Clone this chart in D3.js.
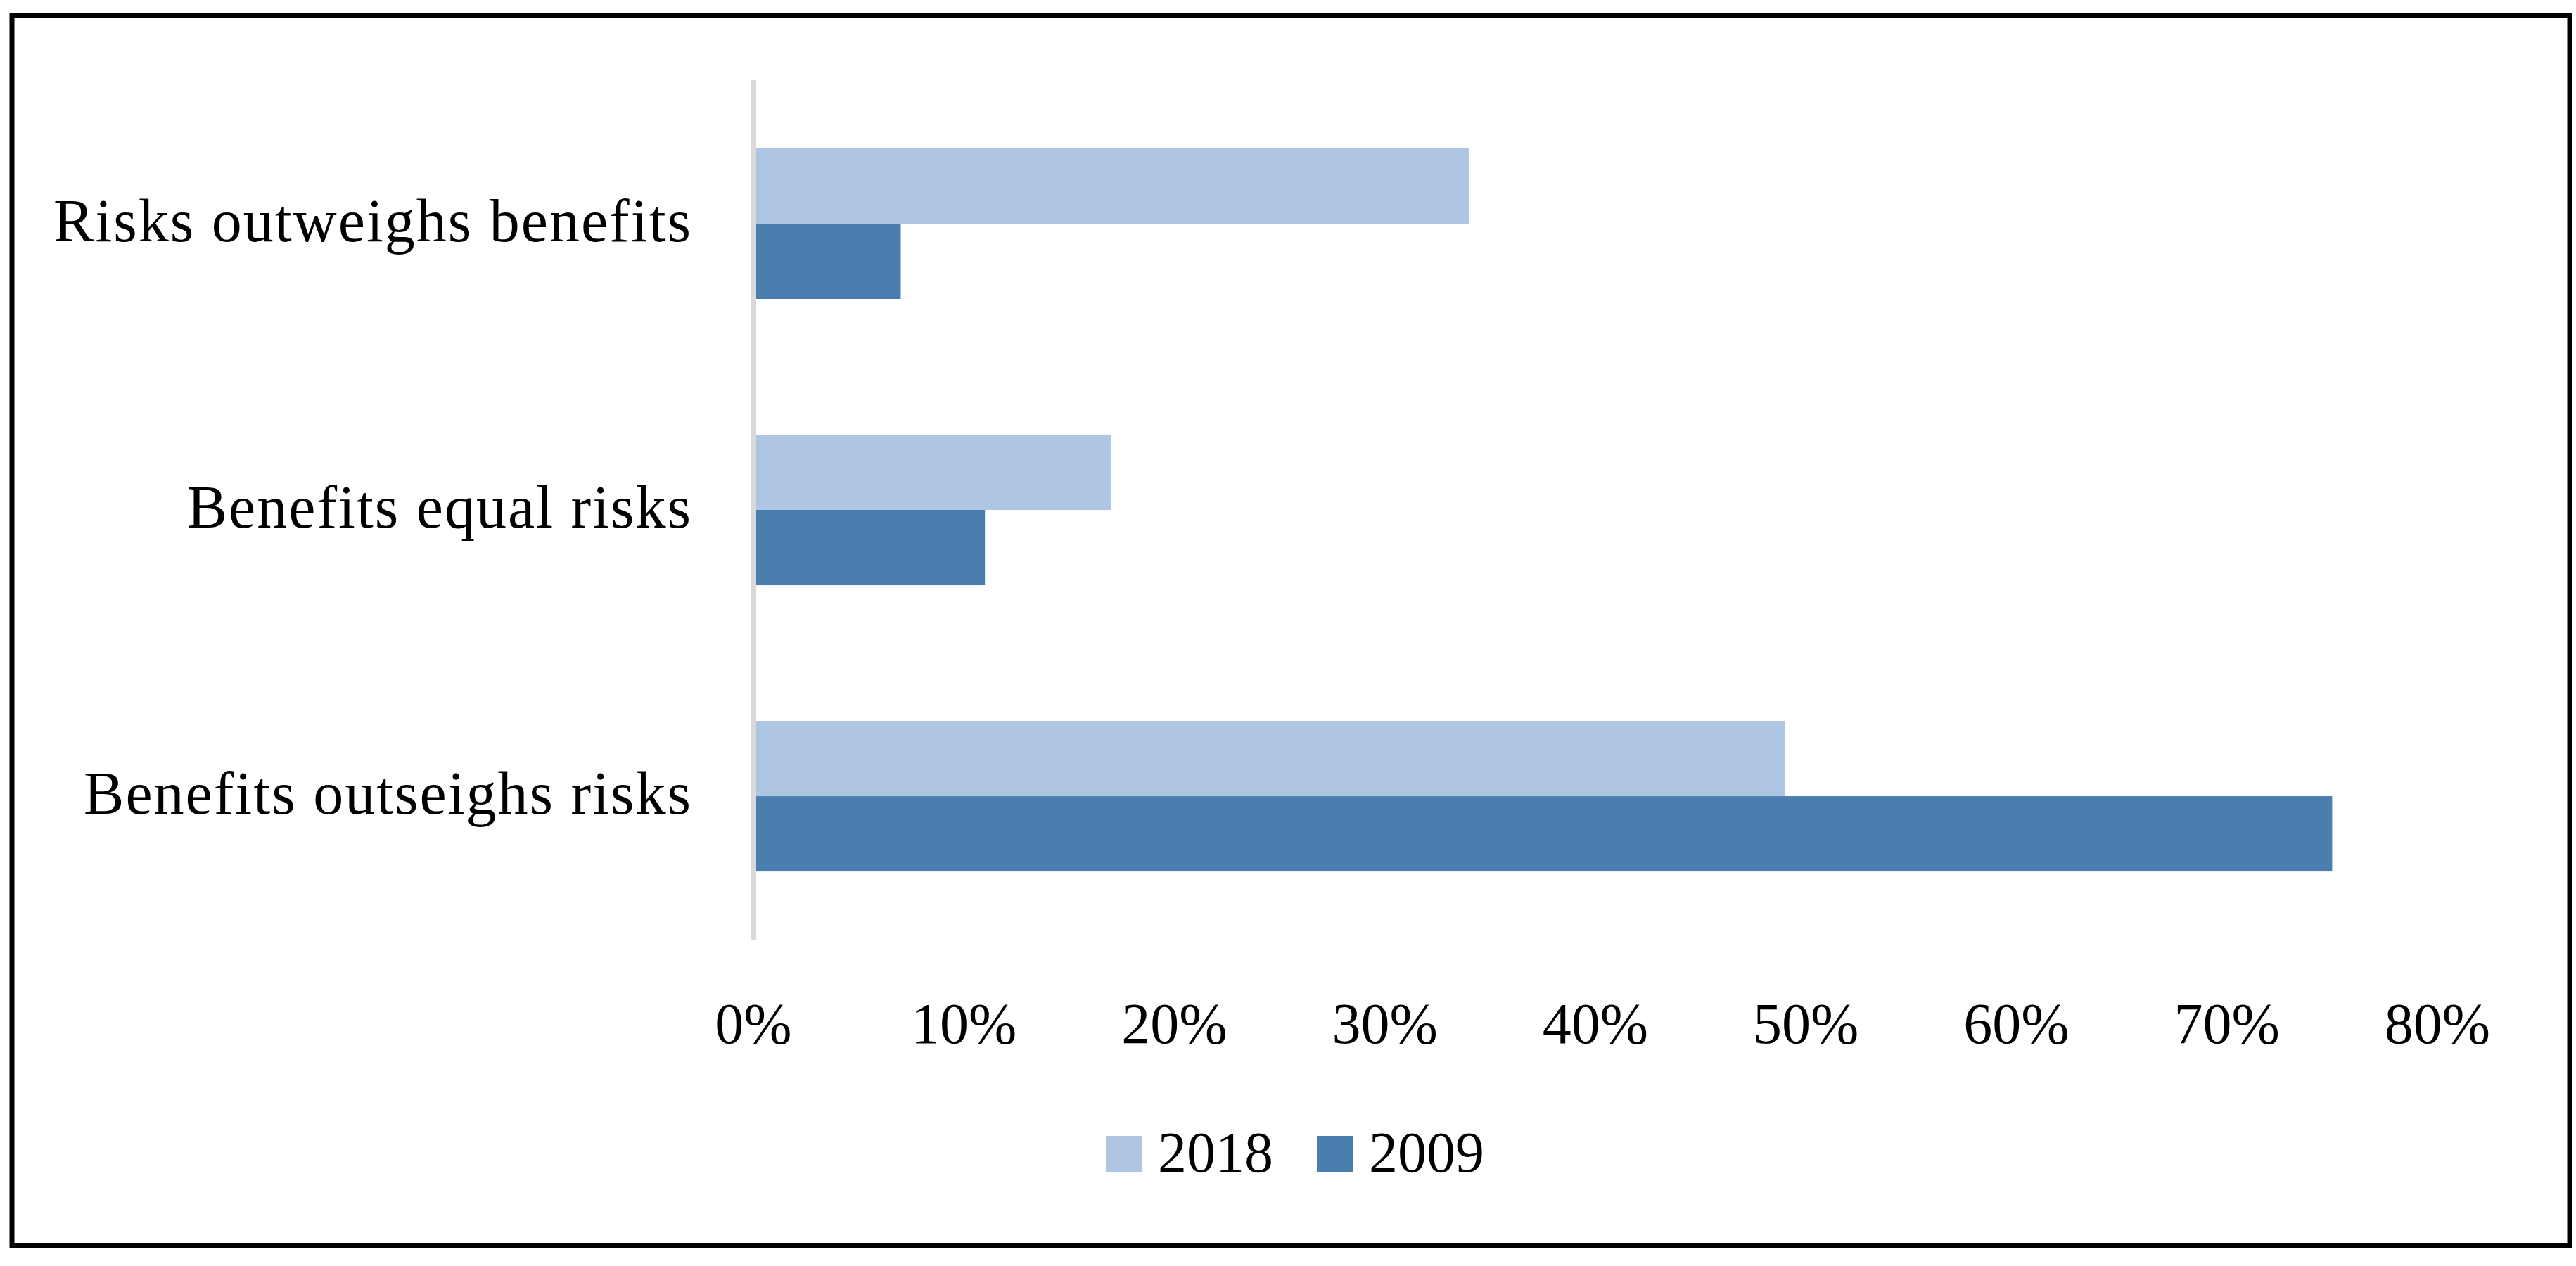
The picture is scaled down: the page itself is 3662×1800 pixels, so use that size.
<!DOCTYPE html>
<html>
<head>
<meta charset="utf-8">
<script src="https://cdn.jsdelivr.net/npm/d3@7"></script>
<style>
  body { margin: 0; background: #fff; }
  svg text { font-family: "Liberation Serif", "DejaVu Serif", serif; fill: #000; }
</style>
</head>
<body>
<svg id="chart" width="3662" height="1800"></svg>
<script>
// data (percent)
var categories = ["Risks outweighs benefits", "Benefits equal risks", "Benefits outseighs risks"];
var seriesNames = ["2018", "2009"];
var values2018 = [34, 17, 49];
var values2009 = [7, 11, 75];
var xTicks = [0, 10, 20, 30, 40, 50, 60, 70, 80];
var colors = ["#aec6e4", "#4a7eae"];

var svg = d3.select("#chart");
var fontSize = 82;

/* outer frame */
svg.append("rect")
  .attr("x", 17).attr("y", 22.5)
  .attr("width", 3636).attr("height", 1748)
  .attr("fill", "none").attr("stroke", "#000").attr("stroke-width", 7);

var plotLeft = 1071, plotTop = 114, plotBottom = 1336;

var x = d3.scaleLinear().domain([0, 80]).range([plotLeft, 3465]);
var y = d3.scaleBand().domain(categories).range([plotTop, plotBottom]).paddingInner(0.474).paddingOuter(0.238);
var ySub = d3.scaleBand().domain(seriesNames).range([0, y.bandwidth()]);

var rows = categories.map(function(c, i) {
  return { cat: c, vals: [values2018[i], values2009[i]] };
});

/* bars */
var groups = svg.selectAll("g.cat").data(rows).enter().append("g")
  .attr("class", "cat")
  .attr("transform", function(d) { return "translate(0," + y(d.cat) + ")"; });

groups.selectAll("rect").data(function(d) {
    return d.vals.map(function(v, j) { return { name: seriesNames[j], v: v, j: j }; });
  })
  .enter().append("rect")
  .attr("x", x(0))
  .attr("y", function(d) { return ySub(d.name); })
  .attr("width", function(d) { return x(d.v) - x(0); })
  .attr("height", ySub.bandwidth())
  .attr("fill", function(d) { return colors[d.j]; });

/* vertical axis line */
svg.append("line")
  .attr("x1", plotLeft).attr("x2", plotLeft)
  .attr("y1", plotTop).attr("y2", plotBottom)
  .attr("stroke", "#d9d9d9").attr("stroke-width", 8);

/* category labels (reference face is wider, so a little letter spacing) */
svg.selectAll("text.cat").data(categories).enter().append("text")
  .attr("class", "cat")
  .attr("x", 984)
  .attr("y", function(d) { return y(d) + y.bandwidth() / 2; })
  .attr("dy", "0.29em")
  .attr("text-anchor", "end")
  .style("font-size", "86px")
  .style("letter-spacing", "2px")
  .text(function(d) { return d; });

/* x tick labels */
svg.selectAll("text.tick").data(xTicks).enter().append("text")
  .attr("class", "tick")
  .attr("x", function(d) { return x(d); })
  .attr("y", 1483)
  .attr("text-anchor", "middle")
  .style("font-size", fontSize + "px")
  .text(function(d) { return d + "%"; });

/* legend */
var legendX = [1572, 1872];
var legend = svg.selectAll("g.legend").data(seriesNames).enter().append("g")
  .attr("class", "legend")
  .attr("transform", function(d, i) { return "translate(" + legendX[i] + ",1615)"; });
legend.append("rect")
  .attr("width", 51).attr("height", 51)
  .attr("fill", function(d, i) { return colors[i]; });
legend.append("text")
  .attr("x", 74).attr("y", 51)
  .style("font-size", fontSize + "px")
  .text(function(d) { return d; });
</script>
</body>
</html>
